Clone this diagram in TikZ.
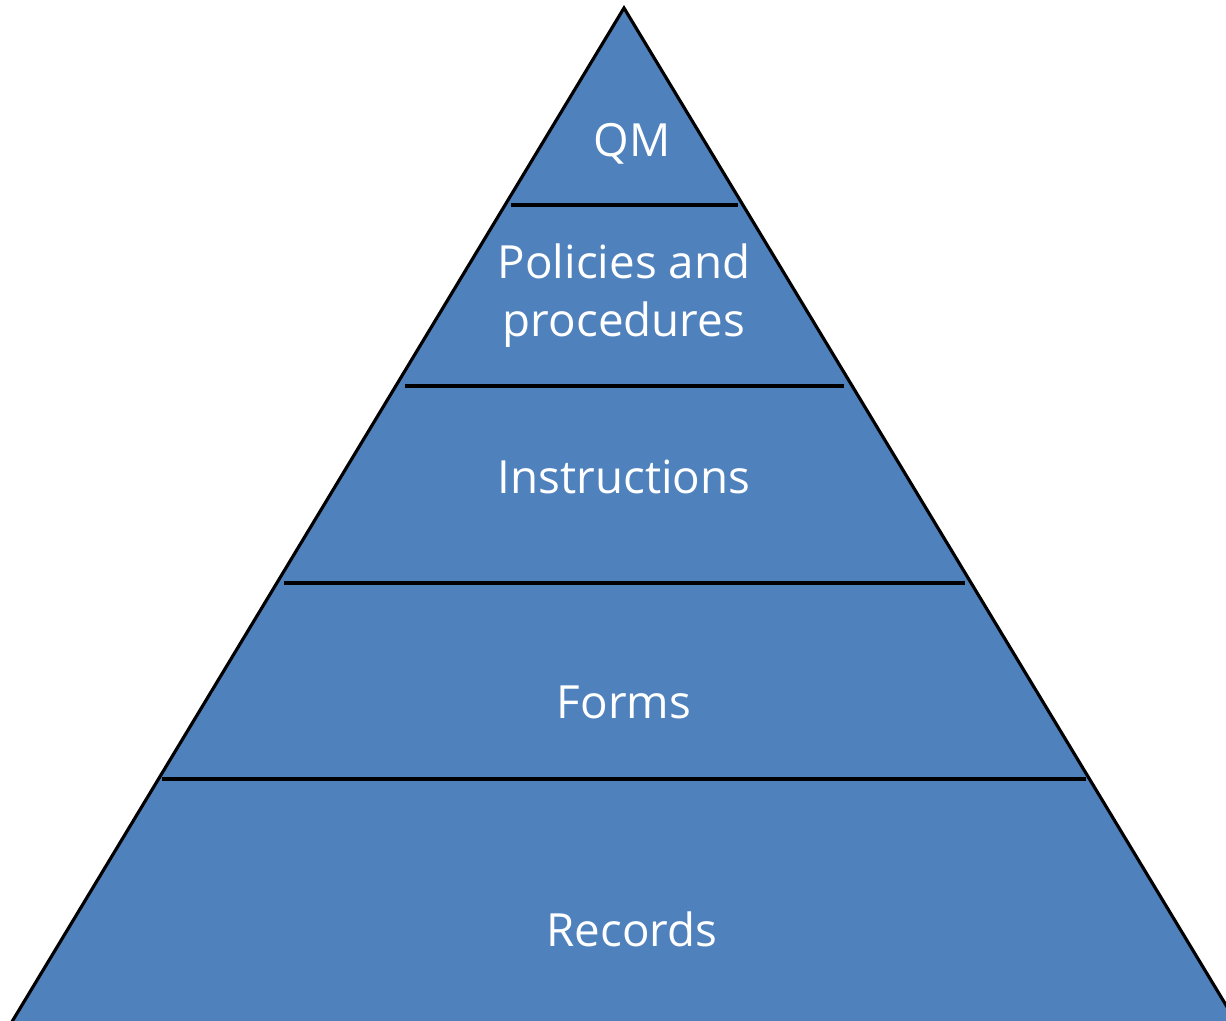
\documentclass[tikz,border=0pt]{standalone}
\usepackage{fontspec}
\setmainfont{Open Sans}
\definecolor{tierblue}{RGB}{79,129,189}
\begin{document}
\begin{tikzpicture}[x=0.01cm,y=-0.01cm,
  tier/.style={text=white,font=\fontsize{13}{16.5}\selectfont,align=center},
  divider/.style={draw=black,line width=0.9pt}]
\useasboundingbox (0,0) rectangle (1226,1021);
\begin{scope}
\clip (0,0) rectangle (1226,1021);
% pyramid body, base running just below the lower edge
\coordinate (apex) at (624,8);
\coordinate (bl) at (10,1025);
\coordinate (br) at (1238,1025);
\filldraw[fill=tierblue,draw=black,line width=0.9pt,line join=miter] (apex) -- (br) -- (bl) -- cycle;
\end{scope}
% tier dividers
\coordinate (d1l) at (511,205); \coordinate (d1r) at (738,205);
\coordinate (d2l) at (405,386); \coordinate (d2r) at (844,386);
\coordinate (d3l) at (284,583); \coordinate (d3r) at (965,583);
\coordinate (d4l) at (162,779); \coordinate (d4r) at (1086,779);
\draw[divider] (d1l) -- (d1r);
\draw[divider] (d2l) -- (d2r);
\draw[divider,line width=1.4pt] (d3l) -- (d3r);
\draw[divider] (d4l) -- (d4r);
% tier labels
\node[tier] (qm) at (632,144) {QM};
\node[tier] (pp) at (624,296) {Policies and\\procedures};
\node[tier] (ins) at (624,477) {Instructions};
\node[tier] (forms) at (624,702) {Forms};
\node[tier] (rec) at (632,929) {Records};
\end{tikzpicture}
\end{document}
